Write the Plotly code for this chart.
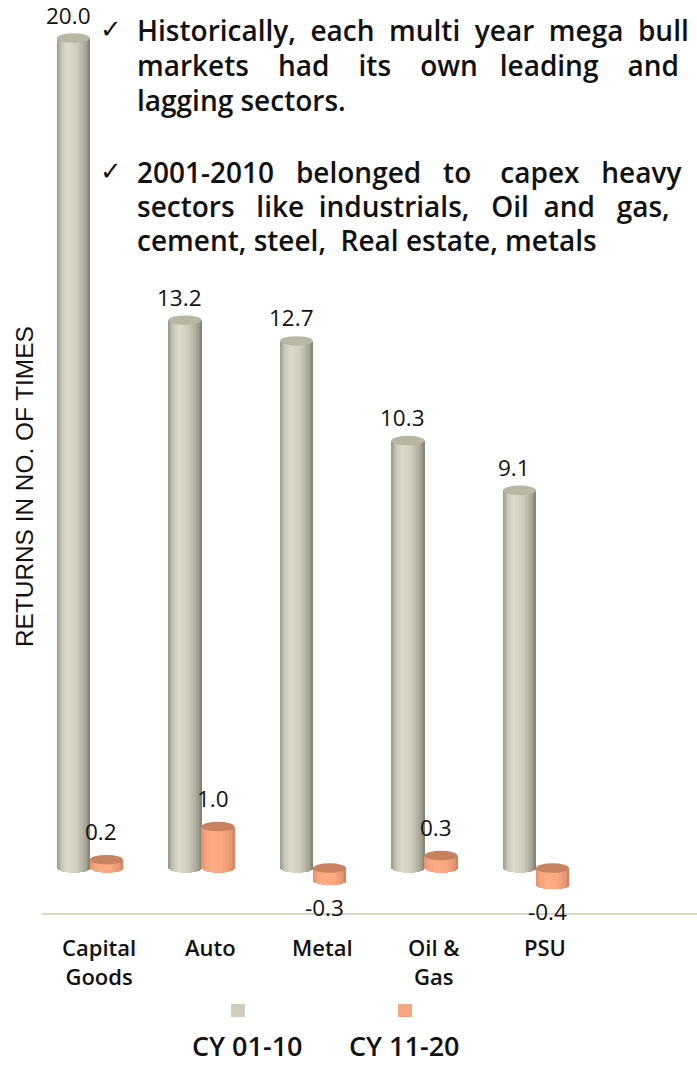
import numpy as np
import plotly.graph_objects as go

# ---------------- data ----------------
categories = ["Capital<br>Goods", "Auto", "Metal", "Oil &<br>Gas", "PSU"]
cy_01_10 = [20.0, 13.2, 12.7, 10.3, 9.1]
cy_11_20 = [0.2, 1.0, -0.3, 0.3, -0.4]
series_names = ["CY 01-10", "CY 11-20"]
y_title = "RETURNS IN NO. OF TIMES"
bullet_lines = [
    ["Historically, each multi year mega bull",
     "markets had its own leading and",
     "lagging sectors."],
    ["2001-2010 belonged to capex heavy",
     "sectors like industrials, Oil and gas,",
     "cement, steel,  Real estate, metals"],
]

# ---------------- geometry / style ----------------
W = 0.296          # bar width (x units)
E = 0.115          # half height of cylinder ellipse (y units)
NSTRIP = 24
FONT = "Open Sans"
X0, X1 = -0.43, 5.444
Y0, Y1 = -1.084, 20.916
PLOT_L, PLOT_W, PLOT_H = 42, 655, 913
# extra non-breaking spaces per word gap, to imitate justified text
justify_extra = [[[1, 1, 1, 1, 1, 1], [3, 3, 3, 2, 3], None],
                 [[2, 2, 3, 2], [2, 1, 2, 1, 2], None]]

def px_x(px):
    return (px - PLOT_L) / PLOT_W

def px_y(py):
    return (PLOT_H - py) / PLOT_H

def justify(line, extra):
    if extra is None:
        return line.replace(" ", "\u00a0")
    words = line.split(" ")
    out = words[0]
    for g, w in enumerate(words[1:]):
        out += "\u00a0" * (1 + extra[g]) + w
    return out

gray_stops = ([0.0, 0.12, 0.32, 0.62, 0.88, 1.0],
              [(150, 150, 134), (196, 195, 178), (222, 220, 202), (205, 204, 186), (165, 165, 148), (128, 128, 114)])
orange_stops = ([0.0, 0.12, 0.35, 0.65, 0.9, 1.0],
                [(225, 145, 108), (245, 163, 124), (253, 172, 132), (250, 168, 128), (232, 150, 112), (205, 128, 92)])

def col(stops, t):
    pos, cols = stops
    c = [np.interp(t, pos, [cc[i] for cc in cols]) for i in range(3)]
    return "rgb(%d,%d,%d)" % tuple(int(round(v)) for v in c)

fig = go.Figure()
idx = np.arange(len(categories))

def add_cylinders(vals, offset, stops, cap_color, name):
    vals = np.array(vals, dtype=float)
    for k in range(NSTRIP):
        t = (k + 0.5) / NSTRIP
        s = np.sqrt(max(0.0, 1 - (2 * t - 1) ** 2))
        x_start = offset + k * W / NSTRIP
        width = min(W / NSTRIP * 1.8, offset + W - x_start)
        top = np.maximum(vals, 0.0)
        bottom = np.minimum(vals, 0.0) - E * s
        fig.add_trace(go.Bar(
            x=idx, y=top - bottom, base=bottom,
            offset=x_start, width=width,
            marker=dict(color=col(stops, t), line=dict(width=0)),
            showlegend=False, hoverinfo="skip", name=name,
        ))
    for i, v in enumerate(vals):
        cy = max(v, 0.0)
        fig.add_shape(type="circle", xref="x", yref="y",
                      x0=i + offset, x1=i + offset + W, y0=cy - E, y1=cy + E,
                      fillcolor=cap_color, line=dict(width=0), layer="above")

add_cylinders(cy_01_10, -W, gray_stops, "rgb(184,183,164)", series_names[0])
add_cylinders(cy_11_20, 0.0, orange_stops, "rgb(200,130,96)", series_names[1])

ann = []
# data labels
for i, v in enumerate(cy_01_10):
    ann.append(dict(x=i - W / 2, y=v, xref="x", yref="y", text="%.1f" % v,
                    showarrow=False, xanchor="center", yanchor="middle",
                    yshift=23, xshift=-5,
                    font=dict(family=FONT, size=22.5, color="#111")))
for i, v in enumerate(cy_11_20):
    ann.append(dict(x=i + W / 2, y=v, xref="x", yref="y", text="%.1f" % v,
                    showarrow=False, xanchor="center", yanchor="middle",
                    yshift=28 if v >= 0 else -27, xshift=-5,
                    font=dict(family=FONT, size=22.5, color="#111")))
# category labels
for i, c in enumerate(categories):
    ann.append(dict(x=i + 0.085, y=px_y(930), xref="x", yref="paper", text=c,
                    showarrow=False, xanchor="center", yanchor="top",
                    font=dict(family=FONT, size=22, color="#111", weight=600)))
# y title
ann.append(dict(x=px_x(24), y=px_y(487), xref="paper", yref="paper", text=y_title,
                textangle=-90, showarrow=False, xanchor="center", yanchor="middle",
                font=dict(family="Liberation Sans", size=24.4, color="#111")))
# bullet text
line_y = [[30, 65, 100], [172, 206, 240]]
for b, lines in enumerate(bullet_lines):
    ann.append(dict(x=px_x(111), y=px_y(line_y[b][0] - 1), xref="paper", yref="paper", text="✓",
                    showarrow=False, xanchor="center", yanchor="middle",
                    font=dict(family="DejaVu Sans", size=26, color="#111")))
    for j, ln in enumerate(lines):
        ann.append(dict(x=px_x(135), y=px_y(line_y[b][j]), xref="paper", yref="paper",
                        text=justify(ln, justify_extra[b][j]), showarrow=False,
                        xanchor="left", yanchor="middle",
                        font=dict(family=FONT, size=28, color="#111", weight=600)))
# legend
leg_x = [247, 404]
leg_sq = [238, 405]
leg_col = ["rgb(207,205,187)", "rgb(247,167,127)"]
for k, nm in enumerate(series_names):
    ann.append(dict(x=px_x(leg_x[k]), y=px_y(1045), xref="paper", yref="paper",
                    text=nm, showarrow=False, xanchor="center", yanchor="middle",
                    font=dict(family=FONT, size=27, color="#111", weight=600)))
    fig.add_shape(type="rect", xref="paper", yref="paper",
                  x0=px_x(leg_sq[k] - 7), x1=px_x(leg_sq[k] + 7),
                  y0=px_y(1017), y1=px_y(1004),
                  fillcolor=leg_col[k], line=dict(width=0))

fig.update_layout(
    width=697, height=1067,
    margin=dict(l=PLOT_L, r=0, t=0, b=1067 - PLOT_H),
    paper_bgcolor="white", plot_bgcolor="white",
    barmode="overlay", bargap=0,
    showlegend=False,
    annotations=ann,
    xaxis=dict(range=[X0, X1], showticklabels=False, showgrid=False, zeroline=False,
               showline=True, linecolor="rgb(216,215,196)", linewidth=2, ticks=""),
    yaxis=dict(range=[Y0, Y1], showticklabels=False, showgrid=False, zeroline=False,
               showline=False, ticks=""),
)

fig.write_html("out.html")
